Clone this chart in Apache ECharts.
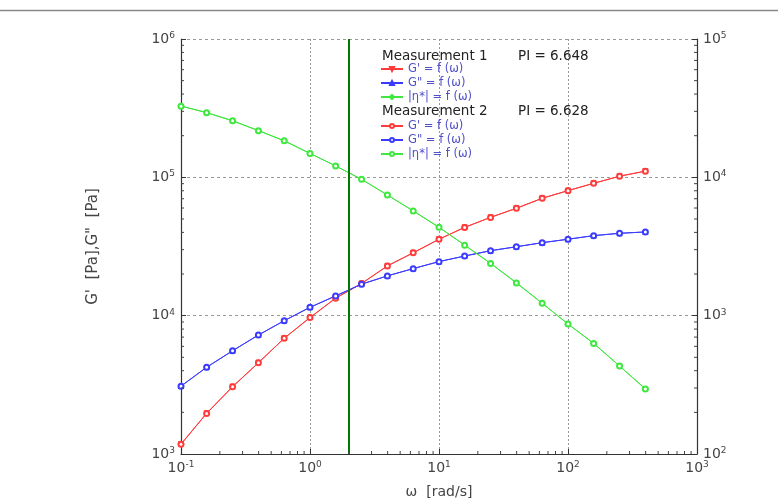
<!DOCTYPE html>
<html><head><meta charset="utf-8">
<script src="https://cdn.jsdelivr.net/npm/echarts@6/dist/echarts.min.js"></script>
<style>html,body{margin:0;padding:0;background:#fff}#c{width:778px;height:502px}</style>
</head><body><div id="c"></div>
<script>
// angular frequency ω [rad/s]
const omega = [0.1,0.158,0.251,0.398,0.631,1,1.58,2.51,3.98,6.31,10,15.8,25.1,39.8,63.1,100,158,251,398];
// Measurement 1
const gPrime1  = [1181,1970,3070,4570,6870,9690,13400,17100,22900,28500,35700,43500,51400,59800,70600,80200,90600,102000,111000];
const gDouble1 = [3100,4240,5580,7250,9200,11500,13900,16900,19400,21900,24600,27000,29500,31500,33700,35700,37900,39400,40300];
const eta1     = [32800,29400,25700,21800,18400,14900,12100,9690,7460,5720,4360,3240,2390,1730,1230,871,631,433,296];
// Measurement 2
const gPrime2  = [1175,1965,3060,4560,6860,9680,13350,17050,22850,28450,35650,43450,51350,59700,70500,80100,90500,101800,110800];
const gDouble2 = [3090,4230,5570,7240,9190,11480,13880,16880,19380,21880,24580,26980,29480,31480,33680,35680,37880,39380,40280];
const eta2     = [32700,29300,25600,21750,18350,14870,12080,9670,7450,5710,4350,3235,2385,1725,1228,870,630,432,295];
const vLineOmega = 2;
const legendNames = ["G' = f (ω)", 'G" = f (ω)', '|η*| = f (ω)'];
const headers = [['Measurement 1','PI = 6.648'],['Measurement 2','PI = 6.628']];

const RED='#ff3b3b', BLUE='#3b3bff', GREEN='#3ee83e';
const FONT='DejaVu Sans';
const chart = echarts.init(document.getElementById('c'));
const pairs = a => omega.map((w,i)=>[w,a[i]]);
function supLabel(v){
  const e = Math.round(Math.log10(v));
  return '{b|10}{s|' + e + '}';
}
const rich = {
  b:{fontSize:14,color:'#444',fontFamily:FONT,lineHeight:16},
  s:{fontSize:9,color:'#444',fontFamily:FONT,verticalAlign:'top',lineHeight:16,padding:[0,0,6,0]}
};
function mk(name, data, color, yIdx, symbol, rot, size){
  return {
    type:'line', name:name, data:pairs(data), xAxisIndex:0, yAxisIndex:yIdx,
    symbol:symbol, symbolSize:size, symbolRotate:rot, showSymbol:true,
    lineStyle:{color:color,width:1}, itemStyle:{color:color, borderColor:color, borderWidth:1},
    animation:false, silent:true, z:3
  };
}
const s2 = ' ';
const series = [
  mk(legendNames[0], gPrime1, RED, 0, 'triangle', 180, 5),
  mk(legendNames[1], gDouble1, BLUE, 0, 'triangle', 0, 5),
  mk(legendNames[2], eta1, GREEN, 1, 'diamond', 0, 5),
  mk(legendNames[0]+s2, gPrime2, RED, 0, 'emptyCircle', 0, 5),
  mk(legendNames[1]+s2, gDouble2, BLUE, 0, 'emptyCircle', 0, 5),
  mk(legendNames[2]+s2, eta2, GREEN, 1, 'emptyCircle', 0, 5)
];
series.push({
  type:'line', data:[], xAxisIndex:0, yAxisIndex:0, silent:true, animation:false,
  markLine:{symbol:'none', silent:true, animation:false, label:{show:false},
    lineStyle:{color:'#007a00', width:2, type:'solid'}, data:[{xAxis:vLineOmega}]}
});
const legendBase = {
  orient:'vertical', left:380, padding:0, itemGap:0, itemWidth:22, itemHeight:5,
  textStyle:{fontFamily:FONT, fontSize:11.5, color:'#5050c8', lineHeight:14},
  formatter: n => n.trim(), selectedMode:false
};
const GL=181, GR=697, GT=39, GB=454;
const option = {
  backgroundColor:'#fff', animation:false,
  grid:{left:GL, right:778-GR, top:GT, bottom:502-GB, containLabel:false, outerBoundsMode:'none'},
  legend:[
    Object.assign({}, legendBase, {top:62, data:legendNames}),
    Object.assign({}, legendBase, {top:119, data:legendNames.map(n=>n+s2)})
  ],
  xAxis:{type:'log', logBase:10, min:0.1, max:1000,
    name:'ω  [rad/s]', nameLocation:'middle', nameGap:31,
    nameTextStyle:{fontFamily:FONT, fontSize:14, color:'#444'},
    axisLine:{lineStyle:{color:'#333',width:1.2}},
    axisTick:{inside:true,length:5,lineStyle:{color:'#333'}},
    axisLabel:{formatter:supLabel, rich:rich, margin:6},
    splitLine:{show:true, lineStyle:{color:'#999', type:[2,2], width:1}},
    minorTick:{show:false}
  },
  yAxis:[
    {type:'log', logBase:10, min:1000, max:1e6, position:'left',
      name:'G\'  [Pa],G"  [Pa]', nameLocation:'middle', nameGap:80, nameRotate:90,
      nameTextStyle:{fontFamily:FONT, fontSize:15, color:'#444'},
      axisLine:{show:true,lineStyle:{color:'#333',width:1.2}},
      axisTick:{show:true,inside:true,length:5,lineStyle:{color:'#333'}},
      axisLabel:{formatter:supLabel, rich:rich, margin:6},
      splitLine:{show:true, lineStyle:{color:'#999', type:[3,3], width:1}}
    },
    {type:'log', logBase:10, min:100, max:1e5, position:'right',
      axisLine:{show:true,lineStyle:{color:'#333',width:1.2}},
      axisTick:{show:true,inside:true,length:5,lineStyle:{color:'#333'}},
      axisLabel:{formatter:supLabel, rich:rich, margin:6},
      splitLine:{show:false}
    }
  ],
  series:series
};
chart.setOption(option);

// minor ticks at 2..9 within each decade, positioned via the axis scales
const gb = chart.convertToPixel({yAxisIndex:0}, 1000);
const gl = chart.convertToPixel({xAxisIndex:0}, 0.1);
const gr = chart.convertToPixel({xAxisIndex:0}, 1000);
const g = [];
const tickStyle = {stroke:'#444', lineWidth:1};
for (let d=-1; d<3; d++) for (let k=2;k<10;k++){
  const px = chart.convertToPixel({xAxisIndex:0}, k*Math.pow(10,d));
  g.push({type:'line', shape:{x1:px,y1:gb,x2:px,y2:gb-3}, style:tickStyle, silent:true, z:10});
}
for (let d=3; d<6; d++) for (let k=2;k<10;k++){
  const py = chart.convertToPixel({yAxisIndex:0}, k*Math.pow(10,d));
  g.push({type:'line', shape:{x1:gl,y1:py,x2:gl+3,y2:py}, style:tickStyle, silent:true, z:10});
}
for (let d=2; d<5; d++) for (let k=2;k<10;k++){
  const py = chart.convertToPixel({yAxisIndex:1}, k*Math.pow(10,d));
  g.push({type:'line', shape:{x1:gr,y1:py,x2:gr-3,y2:py}, style:tickStyle, silent:true, z:10});
}
// legend group headers
headers.forEach((h,i)=>{
  const y = 57 + i*55;
  g.push({type:'text', left:382, top:y-8, silent:true, style:{text:h[0], font:'13.5px "'+FONT+'"', fill:'#222'}});
  g.push({type:'text', left:518, top:y-8, silent:true, style:{text:h[1], font:'13.5px "'+FONT+'"', fill:'#222'}});
});
// outer frame
g.push({type:'line', shape:{x1:0,y1:10.5,x2:778,y2:10.5}, style:{stroke:'#888',lineWidth:1.5}, silent:true});
chart.setOption({graphic:g});
</script>
</body></html>
